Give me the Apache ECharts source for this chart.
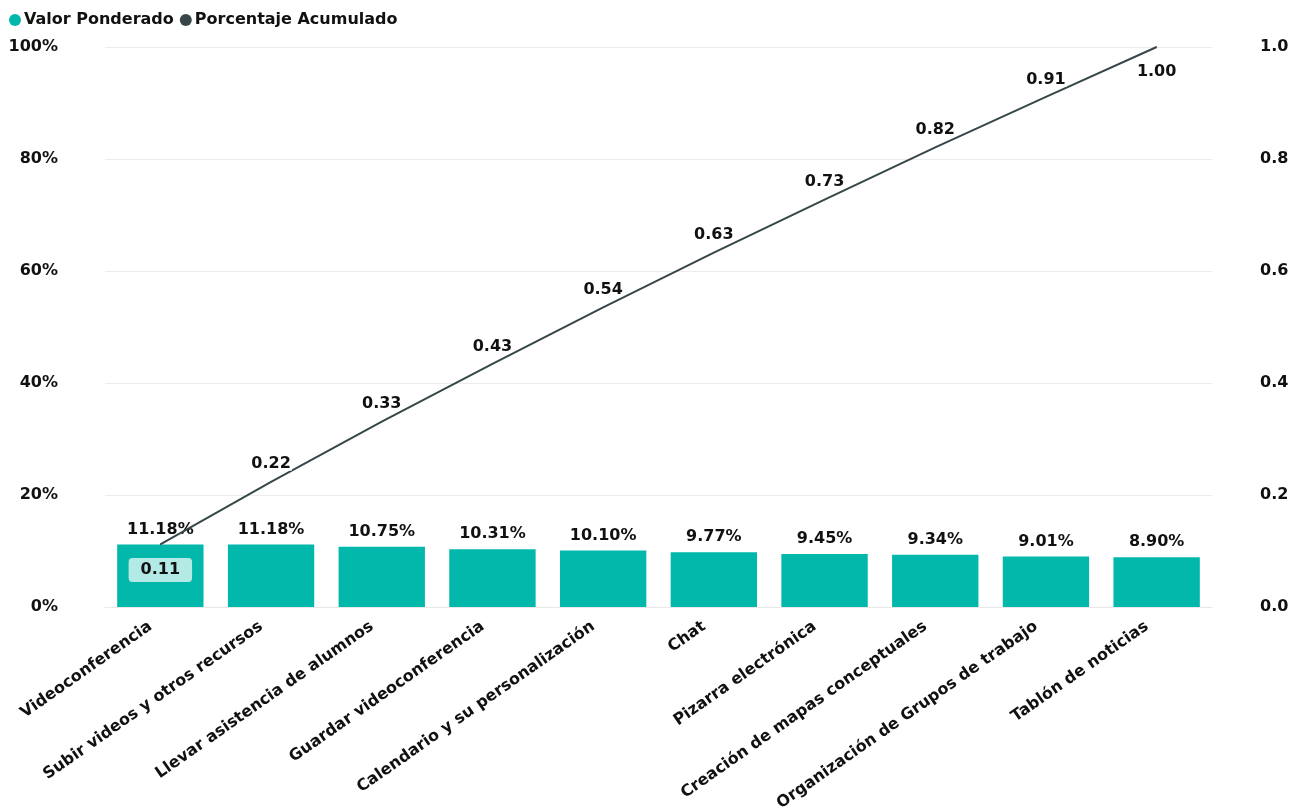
<!DOCTYPE html>
<html>
<head>
<meta charset="utf-8">
<script src="https://cdn.jsdelivr.net/npm/echarts@6/dist/echarts.min.js"></script>
<style>
  html, body { margin: 0; padding: 0; background: #fff; }
  #chart { width: 1299px; height: 810px; }
</style>
</head>
<body>
<div id="chart"></div>
<script>
// datos
var categorias = ['Videoconferencia', 'Subir videos y otros recursos', 'Llevar asistencia de alumnos',
  'Guardar videoconferencia', 'Calendario y su personalización', 'Chat', 'Pizarra electrónica',
  'Creación de mapas conceptuales', 'Organización de Grupos de trabajo', 'Tablón de noticias'];
var valorPonderado = [11.18, 11.18, 10.75, 10.31, 10.10, 9.77, 9.45, 9.34, 9.01, 8.90];
var porcentajeAcumulado = [0.1118, 0.2236, 0.3311, 0.4342, 0.5352, 0.6329, 0.7274, 0.8208, 0.9109, 1.00];

var fuente = 'DejaVu Sans';
var chart = echarts.init(document.getElementById('chart'));

var lineaDatos = porcentajeAcumulado.map(function (v, i) {
  var d = { value: v };
  if (i === 0) {
    d.label = {
      position: 'bottom', distance: 13,
      backgroundColor: 'rgba(255,255,255,0.7)', borderRadius: 4,
      padding: [4, 12], textBorderWidth: 0
    };
  } else if (i === porcentajeAcumulado.length - 1) {
    d.label = { position: 'bottom', distance: 16 };
  }
  return d;
});

var option = {
  textStyle: { fontFamily: fuente },
  legend: {
    left: 4, top: 7,
    itemGap: 6,
    itemWidth: 12, itemHeight: 12,
    icon: 'circle',
    textStyle: { fontSize: 16, fontWeight: 'bold', color: '#111', padding: [0, 0, 0, -2] },
    data: ['Valor Ponderado', 'Porcentaje Acumulado']
  },
  grid: { left: 105, right: 87, top: 47, bottom: 203, outerBoundsMode: 'none', containLabel: false },
  xAxis: {
    type: 'category',
    data: categorias,
    axisLine: { show: true, lineStyle: { color: '#e8e8e8' } },
    axisTick: { show: false },
    axisLabel: {
      rotate: 35, interval: 0, margin: 11,
      padding: [0, 12, 0, 0],
      fontSize: 16, fontWeight: 'bold', color: '#111'
    }
  },
  yAxis: [
    {
      type: 'value', min: 0, max: 100, interval: 20,
      axisLabel: { formatter: '{value}%', fontSize: 16, fontWeight: 'bold', color: '#111', margin: 47 },
      splitLine: { lineStyle: { color: '#ececec' } }
    },
    {
      type: 'value', min: 0, max: 1, interval: 0.2,
      axisLabel: {
        formatter: function (v) { return v.toFixed(1); },
        fontSize: 16, fontWeight: 'bold', color: '#111', margin: 48
      },
      splitLine: { show: false }
    }
  ],
  series: [
    {
      name: 'Valor Ponderado',
      type: 'bar',
      data: valorPonderado,
      barWidth: '78%',
      itemStyle: { color: '#01B8AA' },
      label: {
        show: true, position: 'top', distance: 7,
        formatter: function (p) { return p.value.toFixed(2) + '%'; },
        fontSize: 16, fontWeight: 'bold', color: '#111'
      }
    },
    {
      name: 'Porcentaje Acumulado',
      type: 'line',
      yAxisIndex: 1,
      data: lineaDatos,
      symbol: 'circle',
      symbolSize: 1,
      showSymbol: true,
      itemStyle: { color: '#374649' },
      lineStyle: { color: '#374649', width: 2 },
      z: 3,
      label: {
        show: true, position: 'top', distance: 9,
        formatter: function (p) { return p.value.toFixed(2); },
        fontSize: 16, fontWeight: 'bold', color: '#111',
        textBorderColor: '#fff', textBorderWidth: 5
      }
    }
  ]
};
chart.setOption(option);
</script>
</body>
</html>
